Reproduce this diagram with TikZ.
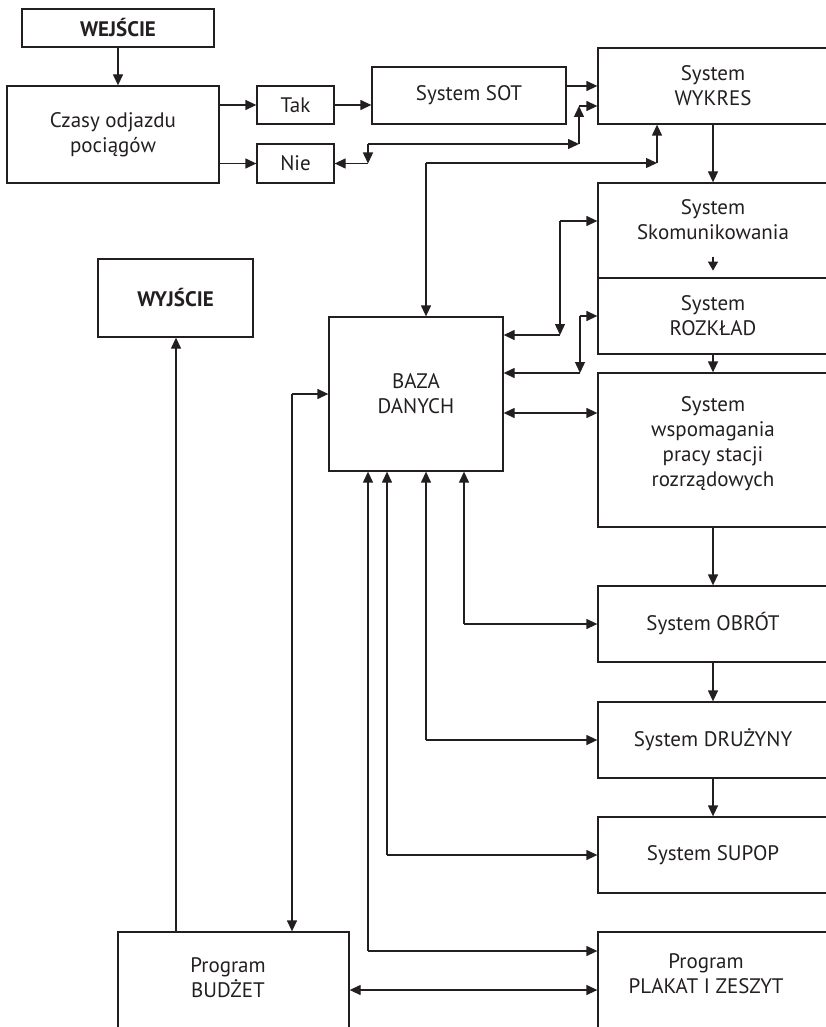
\documentclass[tikz,border=0pt]{standalone}
\usepackage{fontspec}
\setmainfont{PT Sans}
\usetikzlibrary{arrows.meta}
\definecolor{ink}{HTML}{231F20}
\begin{document}
\begin{tikzpicture}[x=1pt,y=-1pt,
  lbl/.style={text=ink,align=center,font=\fontsize{21}{25}\selectfont},
  box/.style={draw=ink,line width=1.3pt,inner sep=0pt,lbl},
  txt/.style={inner sep=0pt,lbl},
  bld/.style={font=\fontsize{21}{25}\selectfont\bfseries},
  tip/.tip={Triangle[length=11pt,width=10pt]},
  arr/.style={draw=ink,line width=1.3pt,-tip},
  arrs/.style={draw=ink,line width=1.3pt,-{Triangle[length=9pt,width=10pt]}},
  arrr/.style={draw=ink,line width=1.3pt,tip-tip},
  ln/.style={draw=ink,line width=1.3pt}]
\useasboundingbox (0,0) rectangle (825,1027);
% boxes
\node[box,bld,minimum width=192pt,minimum height=38pt] (wej) at (118,28) {WEJŚCIE};
\node[box,minimum width=212pt,minimum height=97pt] (czasy) at (113,134.5) {Czasy odjazdu\\pociągów};
\node[box,minimum width=77pt,minimum height=38pt] (tak) at (295.5,105) {Tak};
\node[box,minimum width=77pt,minimum height=39pt] (nie) at (295.5,163.5) {Nie};
\node[box,minimum width=194pt,minimum height=57pt] (sot) at (469,95.5) {System SOT};
\node[box,minimum width=230pt,minimum height=76pt] (wykres) at (713,86) {System\\WYKRES};
\node[box,minimum width=230pt,minimum height=95pt] (skom) at (713,230.5) {};
\node[txt] (skomt) at (713,220) {System\\Skomunikowania};
\node[box,minimum width=230pt,minimum height=76pt] (rozk) at (713,316) {System\\ROZKŁAD};
\node[box,minimum width=230pt,minimum height=154pt] (wsp) at (713,450) {};
\node[txt] (wspt) at (713,444) {System\\wspomagania\\pracy stacji\\rozrządowych};
\node[box,minimum width=230pt,minimum height=76pt] (obrot) at (713,624) {System OBRÓT};
\node[box,minimum width=230pt,minimum height=76pt] (druz) at (713,740) {System DRUŻYNY};
\node[box,minimum width=230pt,minimum height=76pt] (supop) at (713,855) {System SUPOP};
\node[box,minimum width=230pt,minimum height=108pt] (plakat) at (713,986) {};
\node[txt] (plakatt) at (706,974) {Program\\PLAKAT I ZESZYT};
\node[box,minimum width=231pt,minimum height=108pt] (budzet) at (233.5,986) {};
\node[txt] (budzett) at (228,978) {Program\\BUDŻET};
\node[box,minimum width=174pt,minimum height=154pt] (baza) at (416,394) {BAZA\\DANYCH};
\node[box,bld,minimum width=155pt,minimum height=78pt] (wyj) at (175.5,298) {WYJŚCIE};
% top flow
\draw[arr] (wej.south) -- (wej.south |- czasy.north);
\draw[arr] (czasy.east |- tak.west) -- (tak.west);
\draw[arr] (czasy.east |- nie.west) -- (nie.west);
\draw[arr] (tak.east) -- (tak.east -| sot.west);
\draw[arr] (sot.east |- wykres.west) -- (wykres.west);
% Nie loop
\coordinate (n1) at (368,163.5);
\coordinate (n2) at (368,144);
\coordinate (n3) at (579,144);
\coordinate (n4) at (579,106);
\draw[arr] (n1) -- (nie.east);
\draw[arr] (n2) -- (n1);
\draw[arr] (n2) -- (n3);
\draw[arr] (n3) -- (n4);
\draw[arr] (n4) -- (n4 -| wykres.west);
% baza to wykres
\coordinate (b1) at (426,163);
\coordinate (b2) at (657,163);
\draw[arr] (b1) -- (b1 |- baza.north);
\draw[arr] (b1) -- (b2);
\draw[arr] (b2) -- (b2 |- wykres.south);
% right column chain
\draw[arr] (wykres.south) -- (skom.north);
\draw[arrs] ([yshift=22pt]skom.south) -- ([yshift=8pt]skom.south);
\draw[arr] (rozk.south) -- (wsp.north);
\draw[arr] (wsp.south) -- (obrot.north);
\draw[arr] (obrot.south) -- (druz.north);
\draw[arr] (druz.south) -- (supop.north);
% skom loop
\coordinate (s1) at (560,221);
\coordinate (s2) at (560,335);
\draw[arr] (s1) -- (s1 -| skom.west);
\draw[arr] (s1) -- (s2);
\draw[arr] (s2) -- (s2 -| baza.east);
% rozk loop
\coordinate (r1) at (580,316);
\coordinate (r2) at (580,373);
\draw[arr] (r1) -- (r1 -| rozk.west);
\draw[arr] (r1) -- (r2);
\draw[arr] (r2) -- (r2 -| baza.east);
% baza <-> wsp
\coordinate (w1) at (503,413);
\draw[arrr] (w1 -| baza.east) -- (w1 -| wsp.west);
% baza bottom
\coordinate (o1) at (464,624);
\draw[arr] (o1) -- (o1 |- baza.south);
\draw[arr] (o1) -- (obrot.west);
\coordinate (d1) at (426,740);
\draw[arr] (d1) -- (d1 |- baza.south);
\draw[arr] (d1) -- (druz.west);
\coordinate (p1) at (387,855);
\draw[arr] (p1) -- (p1 |- baza.south);
\draw[arr] (p1) -- (supop.west);
\coordinate (k1) at (368,951);
\draw[arr] (k1) -- (k1 |- baza.south);
\draw[arr] (k1) -- (k1 -| plakat.west);
% budzet
\coordinate (u1) at (292,394);
\draw[arr] (u1) -- (baza.west);
\draw[arr] (u1) -- (u1 |- budzet.north);
\coordinate (u2) at (176,932);
\draw[arr] (u2 |- budzet.north) -- (u2 |- wyj.south);
\coordinate (u3) at (400,990);
\draw[arrr] (u3 -| budzet.east) -- (u3 -| plakat.west);
\end{tikzpicture}
\end{document}
